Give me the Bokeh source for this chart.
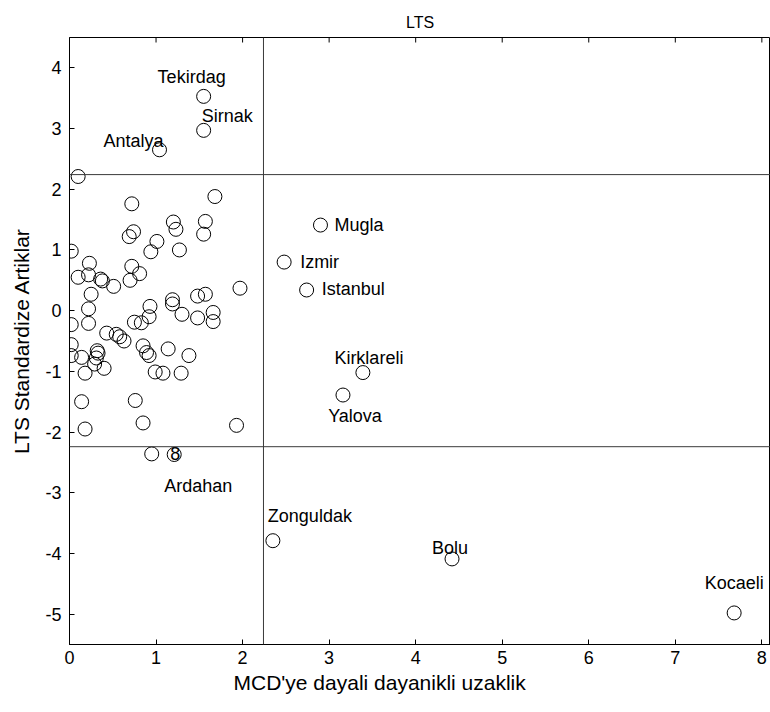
import math
from bokeh.plotting import figure
from bokeh.models import Span, FixedTicker, Range1d, Title
from bokeh.core.properties import value
from bokeh.embed import file_html
from bokeh.resources import INLINE

# ---- data ----
# unlabeled provinces: robust distance (x) and LTS standardized residual (y)
other_x = [0.10, 1.68, 0.72, 1.20, 1.23, 1.57, 1.55, 0.74, 0.69, 1.01, 0.94, 1.27,
           0.02, 0.23, 0.10, 0.22, 0.36, 0.38, 0.51, 0.72, 0.81, 0.70, 0.25, 0.22,
           1.97, 1.48, 1.57, 1.19, 1.19, 0.93, 1.66, 1.66, 1.48, 1.30, 0.92, 0.83,
           0.75, 0.02, 0.22, 0.43, 0.54, 0.58, 0.63, 0.02, 0.02, 0.14, 0.32, 0.33,
           0.31, 0.29, 0.40, 0.18, 0.85, 0.89, 0.92, 1.14, 1.38, 0.99, 1.08, 1.29,
           0.14, 0.76, 0.18, 0.85, 1.93, 0.95]
other_y = [2.21, 1.88, 1.76, 1.46, 1.34, 1.47, 1.26, 1.30, 1.22, 1.14, 0.97, 1.00,
           0.98, 0.78, 0.55, 0.59, 0.52, 0.49, 0.40, 0.73, 0.61, 0.50, 0.27, 0.03,
           0.37, 0.24, 0.27, 0.18, 0.11, 0.07, -0.03, -0.18, -0.12, -0.06, -0.10, -0.20,
           -0.19, -0.23, -0.21, -0.37, -0.39, -0.43, -0.50, -0.56, -0.74, -0.77, -0.66, -0.70,
           -0.78, -0.88, -0.95, -1.03, -0.58, -0.69, -0.74, -0.63, -0.74, -1.01, -1.03, -1.03,
           -1.50, -1.48, -1.95, -1.85, -1.89, -2.36]

# labelled provinces
names = ["Tekirdag", "Sirnak", "Antalya", "Mugla", "Izmir", "Istanbul",
         "Kirklareli", "Yalova", "Ardahan", "Zonguldak", "Bolu", "Kocaeli"]
named_x = [1.55, 1.55, 1.04, 2.90, 2.48, 2.74, 3.39, 3.16, 1.21, 2.35, 4.42, 7.68]
named_y = [3.53, 2.97, 2.65, 1.41, 0.80, 0.34, -1.02, -1.39, -2.37, -3.79, -4.09, -4.98]

cutoff = 2.2414  # sqrt(chi2(0.975, 1))

x_ticks = [0, 1, 2, 3, 4, 5, 6, 7, 8]
y_ticks = [-5, -4, -3, -2, -1, 0, 1, 2, 3, 4]

title_text = "LTS"
x_label = "MCD'ye dayali dayanikli uzaklik"
y_label = "LTS Standardize Artiklar"

# label placement (screen pixel offsets, style only)
lab_dx = [-12, -2, -26, 14, 16, 15, 6, 12, 24, 37, -2, 0]
lab_dy = [-19, -14, -9, 0, 0, -1, -15, 21, 31, -25, -11, -30]
lab_align = ["center", "left", "center", "left", "left", "left",
             "center", "center", "center", "center", "center", "center"]

FONT = "Liberation Sans"
X0, X1, Y0, Y1 = 0, 8.1, -5.5, 4.5

p = figure(width=770, height=712, output_backend="svg", toolbar_location=None,
           x_range=Range1d(X0, X1), y_range=Range1d(Y0, Y1),
           min_border_left=69, min_border_right=0, min_border_top=37,
           min_border_bottom=68, title=title_text)
p.title.text_font = FONT
p.title.text_font_size = "16px"
p.title.text_font_style = "normal"
p.title.align = "center"
p.title.vertical_align = "top"
p.title.text_color = "black"
p.title.standoff = 10

p.grid.visible = False
p.outline_line_color = "black"
p.outline_line_width = 1
p.background_fill_color = "white"
p.border_fill_color = "white"

for ax in (p.xaxis[0], p.yaxis[0]):
    ax.major_tick_in = 5
    ax.major_tick_out = 0
    ax.minor_tick_in = 0
    ax.minor_tick_out = 0
    ax.axis_line_color = "black"
    ax.major_tick_line_color = "black"
    ax.major_label_text_font = FONT
    ax.major_label_text_font_size = "18px"
    ax.major_label_text_color = "black"
    ax.axis_label_text_font = FONT
    ax.axis_label_text_font_size = "21px"
    ax.axis_label_text_font_style = "normal"
    ax.axis_label_text_color = "black"

p.xaxis[0].ticker = FixedTicker(ticks=x_ticks)
p.yaxis[0].ticker = FixedTicker(ticks=y_ticks)
p.yaxis[0].major_label_overrides = {t: str(t) for t in y_ticks}
p.yaxis[0].axis_label = y_label
p.xaxis[0].major_label_standoff = 6
p.yaxis[0].major_label_standoff = 8
p.yaxis[0].axis_label_standoff = 9

# x-axis label, starting a little left of tick "2" as in the original
p.add_layout(Title(text=x_label, align="left", offset=164,
                   text_font=FONT, text_font_size="21px", text_font_style="normal",
                   text_color="black", standoff=4), "below")

# inward ticks on the top edge of the box
p.ray(x=x_ticks, y=[Y1] * len(x_ticks), length=5, length_units="screen",
      angle=-math.pi / 2, line_color="black", line_width=1)

for loc, dim in ((cutoff, "width"), (-cutoff, "width"), (cutoff, "height")):
    p.add_layout(Span(location=loc, dimension=dim, line_color="#3a3a3a", line_width=1))

p.scatter(other_x, other_y, marker="circle", size=14, fill_color=None,
          line_color="black", line_width=1)
p.scatter(named_x, named_y, marker="circle", size=14, fill_color=None,
          line_color="black", line_width=1)

p.text(x=named_x, y=named_y, text=names, x_offset=lab_dx, y_offset=lab_dy,
       text_align=lab_align, text_baseline="middle", text_font=value(FONT),
       text_font_size="18px", text_color="black")
p.text(x=[named_x[8]], y=[named_y[8]], text=["8"], x_offset=[1], y_offset=[-1],
       text_align="center", text_baseline="middle", text_font=value(FONT),
       text_font_size="18px", text_color="black")

open("out.html", "w").write(file_html(p, INLINE))
